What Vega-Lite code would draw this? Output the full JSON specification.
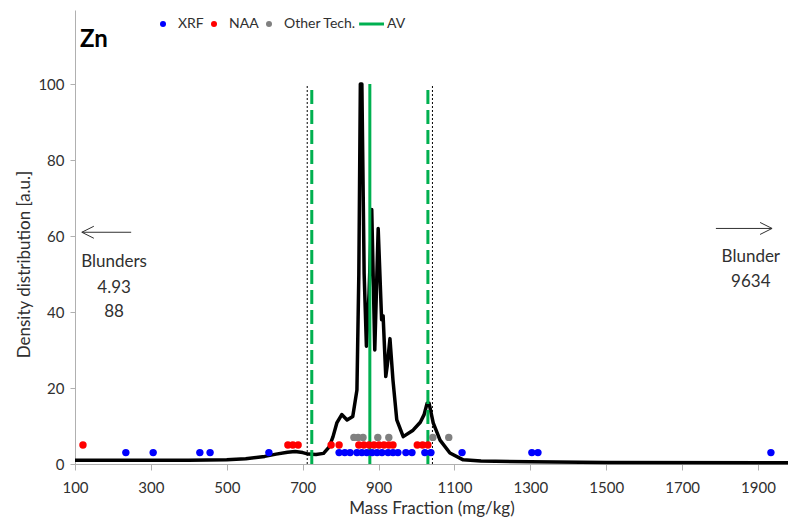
{
  "$schema": "https://vega.github.io/schema/vega-lite/v6.json",
  "width": 713,
  "height": 454,
  "autosize": "none",
  "padding": {"left": 75, "top": 10, "right": 0, "bottom": 59},
  "config": {
    "view": {"stroke": null},
    "font": "Lato",
    "axis": {
      "domainColor": "#b0b0b0",
      "tickColor": "#b0b0b0",
      "labelColor": "#303030",
      "titleColor": "#303030",
      "grid": false,
      "labelFont": "Lato",
      "titleFont": "Lato",
      "titleFontWeight": "normal",
      "labelFlush": false,
      "labelOverlap": false
    }
  },
  "datasets": {
    "curve": [
      {"x": 100, "y": 1.0}, {"x": 200, "y": 1.0}, {"x": 300, "y": 1.0}, {"x": 400, "y": 1.0},
      {"x": 500, "y": 1.1}, {"x": 550, "y": 1.4}, {"x": 600, "y": 2.0}, {"x": 630, "y": 2.6},
      {"x": 660, "y": 3.1}, {"x": 680, "y": 3.3}, {"x": 700, "y": 3.0}, {"x": 715, "y": 2.6},
      {"x": 735, "y": 2.5}, {"x": 755, "y": 2.8}, {"x": 770, "y": 4.5}, {"x": 780, "y": 7.2},
      {"x": 790, "y": 10.8}, {"x": 803, "y": 13}, {"x": 817, "y": 11.6}, {"x": 832, "y": 12.5},
      {"x": 843, "y": 19.5}, {"x": 848, "y": 50}, {"x": 852, "y": 100}, {"x": 856, "y": 100},
      {"x": 862, "y": 50}, {"x": 868, "y": 31}, {"x": 875, "y": 45}, {"x": 882, "y": 67},
      {"x": 890, "y": 30}, {"x": 899, "y": 62}, {"x": 908, "y": 38}, {"x": 912, "y": 39},
      {"x": 919, "y": 23}, {"x": 923, "y": 26}, {"x": 930, "y": 33}, {"x": 938, "y": 22},
      {"x": 948, "y": 11.6}, {"x": 965, "y": 7.2}, {"x": 991, "y": 8.9}, {"x": 1010, "y": 11},
      {"x": 1020, "y": 13}, {"x": 1028, "y": 16}, {"x": 1033, "y": 16}, {"x": 1044, "y": 10.8},
      {"x": 1062, "y": 6.3}, {"x": 1088, "y": 2.9}, {"x": 1123, "y": 1.1}, {"x": 1170, "y": 0.8},
      {"x": 1300, "y": 0.6}, {"x": 1500, "y": 0.4}, {"x": 1979, "y": 0.3}
    ],
    "points": [
      {"x": 234, "y": 3, "tech": "XRF"}, {"x": 306, "y": 3, "tech": "XRF"}, {"x": 429, "y": 3, "tech": "XRF"},
      {"x": 456, "y": 3, "tech": "XRF"}, {"x": 611, "y": 3, "tech": "XRF"}, {"x": 796, "y": 3, "tech": "XRF"},
      {"x": 811, "y": 3, "tech": "XRF"}, {"x": 825, "y": 3, "tech": "XRF"}, {"x": 843, "y": 3, "tech": "XRF"},
      {"x": 856, "y": 3, "tech": "XRF"}, {"x": 869, "y": 3, "tech": "XRF"}, {"x": 883, "y": 3, "tech": "XRF"},
      {"x": 896, "y": 3, "tech": "XRF"}, {"x": 909, "y": 3, "tech": "XRF"}, {"x": 925, "y": 3, "tech": "XRF"},
      {"x": 938, "y": 3, "tech": "XRF"}, {"x": 951, "y": 3, "tech": "XRF"}, {"x": 972, "y": 3, "tech": "XRF"},
      {"x": 988, "y": 3, "tech": "XRF"}, {"x": 1022, "y": 3, "tech": "XRF"}, {"x": 1038, "y": 3, "tech": "XRF"},
      {"x": 1120, "y": 3, "tech": "XRF"}, {"x": 1304, "y": 3, "tech": "XRF"}, {"x": 1320, "y": 3, "tech": "XRF"},
      {"x": 1934, "y": 3, "tech": "XRF"},
      {"x": 121, "y": 5, "tech": "NAA"}, {"x": 661, "y": 5, "tech": "NAA"}, {"x": 674, "y": 5, "tech": "NAA"},
      {"x": 688, "y": 5, "tech": "NAA"}, {"x": 775, "y": 5, "tech": "NAA"}, {"x": 796, "y": 5, "tech": "NAA"},
      {"x": 848, "y": 5, "tech": "NAA"}, {"x": 861, "y": 5, "tech": "NAA"}, {"x": 875, "y": 5, "tech": "NAA"},
      {"x": 888, "y": 5, "tech": "NAA"}, {"x": 901, "y": 5, "tech": "NAA"}, {"x": 914, "y": 5, "tech": "NAA"},
      {"x": 927, "y": 5, "tech": "NAA"}, {"x": 938, "y": 5, "tech": "NAA"}, {"x": 1002, "y": 5, "tech": "NAA"},
      {"x": 1016, "y": 5, "tech": "NAA"}, {"x": 1030, "y": 5, "tech": "NAA"},
      {"x": 835, "y": 7, "tech": "Other Tech."}, {"x": 846, "y": 7, "tech": "Other Tech."},
      {"x": 859, "y": 7, "tech": "Other Tech."}, {"x": 898, "y": 7, "tech": "Other Tech."},
      {"x": 927, "y": 7, "tech": "Other Tech."}, {"x": 1043, "y": 7, "tech": "Other Tech."},
      {"x": 1085, "y": 7, "tech": "Other Tech."}
    ],
    "limits": [
      {"x": 712, "kind": "ref"}, {"x": 1042, "kind": "ref"},
      {"x": 724, "kind": "unc"}, {"x": 1030, "kind": "unc"},
      {"x": 877, "kind": "av"}
    ],
    "notes": [
      {"x": 203, "y": 53.2, "label": "Blunders"},
      {"x": 203, "y": 46.3, "label": "4.93"},
      {"x": 203, "y": 40.0, "label": "88"},
      {"x": 1881, "y": 54.5, "label": "Blunder"},
      {"x": 1881, "y": 47.9, "label": "9634"}
    ],
    "arrows": [
      {"x": 118, "x2": 248, "y": 61, "dir": "left"},
      {"x": 1789, "x2": 1937, "y": 62, "dir": "right"}
    ]
  },
  "layer": [
    {
      "data": {"name": "curve"},
      "mark": {"type": "line", "color": "#000000", "strokeWidth": 3.5, "strokeJoin": "round"},
      "encoding": {
        "x": {
          "field": "x", "type": "quantitative",
          "scale": {"domain": [100, 1979], "nice": false, "zero": false},
          "axis": {
            "values": [100, 300, 500, 700, 900, 1100, 1300, 1500, 1700, 1900],
            "format": "d",
            "tickSize": 6, "labelPadding": 10, "labelFontSize": 15,
            "title": "Mass Fraction (mg/kg)", "titleFontSize": 17, "titlePadding": 5
          }
        },
        "y": {
          "field": "y", "type": "quantitative",
          "scale": {"domain": [0, 119.5], "nice": false},
          "axis": {
            "values": [0, 20, 40, 60, 80, 100],
            "format": "d",
            "tickSize": 5, "labelPadding": 6, "labelFontSize": 15,
            "title": "Density distribution [a.u.]", "titleFontSize": 17, "titlePadding": 4,
            "titleY": 254
          }
        }
      }
    },
    {
      "data": {"name": "limits"},
      "transform": [{"filter": "datum.kind === 'ref'"}],
      "mark": {"type": "rule", "color": "#000000", "strokeWidth": 1, "strokeDash": [2, 2]},
      "encoding": {
        "x": {"field": "x", "type": "quantitative"},
        "y": {"datum": 0, "type": "quantitative"},
        "y2": {"datum": 100}
      }
    },
    {
      "data": {"name": "limits"},
      "transform": [{"filter": "datum.kind === 'unc'"}],
      "mark": {"type": "rule", "color": "#00b050", "strokeWidth": 3, "strokeDash": [14, 6]},
      "encoding": {
        "x": {"field": "x", "type": "quantitative"},
        "y": {"datum": 0, "type": "quantitative"},
        "y2": {"datum": 100}
      }
    },
    {
      "data": {"name": "limits"},
      "transform": [{"filter": "datum.kind === 'av'"}],
      "mark": {"type": "rule", "color": "#00b050", "strokeWidth": 3},
      "encoding": {
        "x": {"field": "x", "type": "quantitative"},
        "y": {"datum": 0, "type": "quantitative"},
        "y2": {"datum": 100}
      }
    },
    {
      "data": {"name": "points"},
      "mark": {"type": "point", "filled": true, "opacity": 1, "size": 55},
      "encoding": {
        "x": {"field": "x", "type": "quantitative"},
        "y": {"field": "y", "type": "quantitative"},
        "color": {
          "field": "tech", "type": "nominal",
          "scale": {"domain": ["XRF", "NAA", "Other Tech.", "AV"], "range": ["#0000ff", "#ff0000", "#808080", "#00b050"]},
          "legend": {
            "orient": "none", "legendX": 81, "legendY": 7, "direction": "horizontal", "title": null,
            "symbolSize": 36, "labelOffset": 8, "columnPadding": 3, "padding": 0,
            "labelFontSize": 14, "labelFont": "Lato", "labelColor": "#303030"
          }
        },
        "shape": {
          "field": "tech", "type": "nominal",
          "scale": {"domain": ["XRF", "NAA", "Other Tech.", "AV"], "range": ["circle", "circle", "circle", "M -4.3 -0.5 L 4 -0.5 L 4 0.5 L -4.3 0.5 Z"]},
          "legend": {
            "orient": "none", "legendX": 81, "legendY": 7, "direction": "horizontal", "title": null,
            "symbolSize": 36, "labelOffset": 8, "columnPadding": 3, "padding": 0,
            "labelFontSize": 14, "labelFont": "Lato", "labelColor": "#303030"
          }
        }
      }
    },
    {
      "data": {"name": "notes"},
      "mark": {"type": "text", "fontSize": 17, "font": "Lato", "color": "#303030", "align": "center", "baseline": "middle"},
      "encoding": {
        "x": {"field": "x", "type": "quantitative"},
        "y": {"field": "y", "type": "quantitative"},
        "text": {"field": "label"}
      }
    },
    {
      "data": {"values": [{"x": 113, "y": 111.5, "label": "Zn"}]},
      "mark": {"type": "text", "fontSize": 24, "fontWeight": "bold", "font": "Lato", "color": "#000000", "align": "left", "baseline": "middle"},
      "encoding": {
        "x": {"field": "x", "type": "quantitative"},
        "y": {"field": "y", "type": "quantitative"},
        "text": {"field": "label"}
      }
    },
    {
      "data": {"name": "arrows"},
      "mark": {"type": "rule", "color": "#303030", "strokeWidth": 1},
      "encoding": {
        "x": {"field": "x", "type": "quantitative"},
        "x2": {"field": "x2"},
        "y": {"field": "y", "type": "quantitative"}
      }
    },
    {
      "data": {"name": "arrows"},
      "transform": [{"filter": "datum.dir === 'left'"}],
      "mark": {"type": "point", "filled": false, "opacity": 1, "color": "#303030", "strokeWidth": 1, "size": 144, "shape": "M 2 -1 L 0 0 L 2 1"},
      "encoding": {
        "x": {"field": "x", "type": "quantitative"},
        "y": {"field": "y", "type": "quantitative"}
      }
    },
    {
      "data": {"name": "arrows"},
      "transform": [{"filter": "datum.dir === 'right'"}],
      "mark": {"type": "point", "filled": false, "opacity": 1, "color": "#303030", "strokeWidth": 1, "size": 144, "shape": "M -2 -1 L 0 0 L -2 1"},
      "encoding": {
        "x": {"field": "x2", "type": "quantitative"},
        "y": {"field": "y", "type": "quantitative"}
      }
    }
  ]
}
